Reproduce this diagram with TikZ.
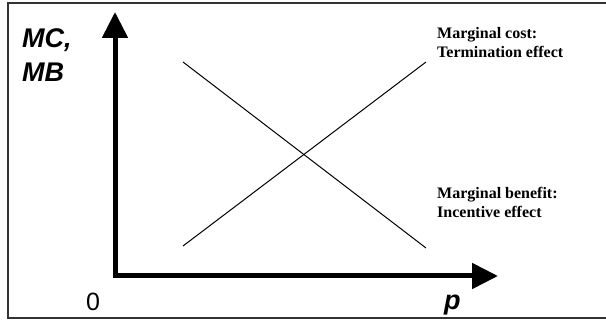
\documentclass[tikz,border=0pt]{standalone}
\usepackage{fontspec}
\setmainfont{Liberation Serif}
\setsansfont{Liberation Sans}
\usetikzlibrary{arrows.meta}
\tikzset{
  axis/.style={line width=5pt, arrows={Triangle[length=26pt,width=25pt]-Triangle[length=26pt,width=25pt]}},
  curve/.style={line width=1pt},
  axlabel/.style={font=\sffamily\bfseries\itshape\fontsize{27}{34}\selectfont, inner sep=0pt, anchor=base west, align=left},
  zerolabel/.style={font=\sffamily\fontsize{25}{30}\selectfont, inner sep=0pt, anchor=base west},
  curvelabel/.style={font=\bfseries\fontsize{16}{19.5}\selectfont, inner sep=0pt, anchor=base west, align=left},
}
\begin{document}
\begin{tikzpicture}[x=1pt,y=-1pt]
\useasboundingbox (0,0) rectangle (606,323);
\draw[line width=1.5pt, black!80] (8,3) rectangle (608,318);
\coordinate (origin) at (115,276);
\coordinate (ytip) at (115,12);
\coordinate (xtip) at (498,276);
\draw[axis] (ytip) -- (origin) -- (xtip);
\coordinate (mcA) at (183,246);
\coordinate (mcB) at (426,62);
\coordinate (mbA) at (183,62);
\coordinate (mbB) at (426,248);
\draw[curve] (mcA) -- (mcB);
\draw[curve] (mbA) -- (mbB);
\node[axlabel] (mc) at (22,48) {MC,};
\node[axlabel] (mb) at (22,82) {MB};
\node[zerolabel] (zero) at (86,311) {0};
\node[axlabel] (p) at (444,310) {p};
\node[curvelabel] (cost) at (437,58) {Marginal cost:\\Termination effect};
\node[curvelabel] (benefit) at (437,218) {Marginal benefit:\\Incentive effect};
\end{tikzpicture}
\end{document}
